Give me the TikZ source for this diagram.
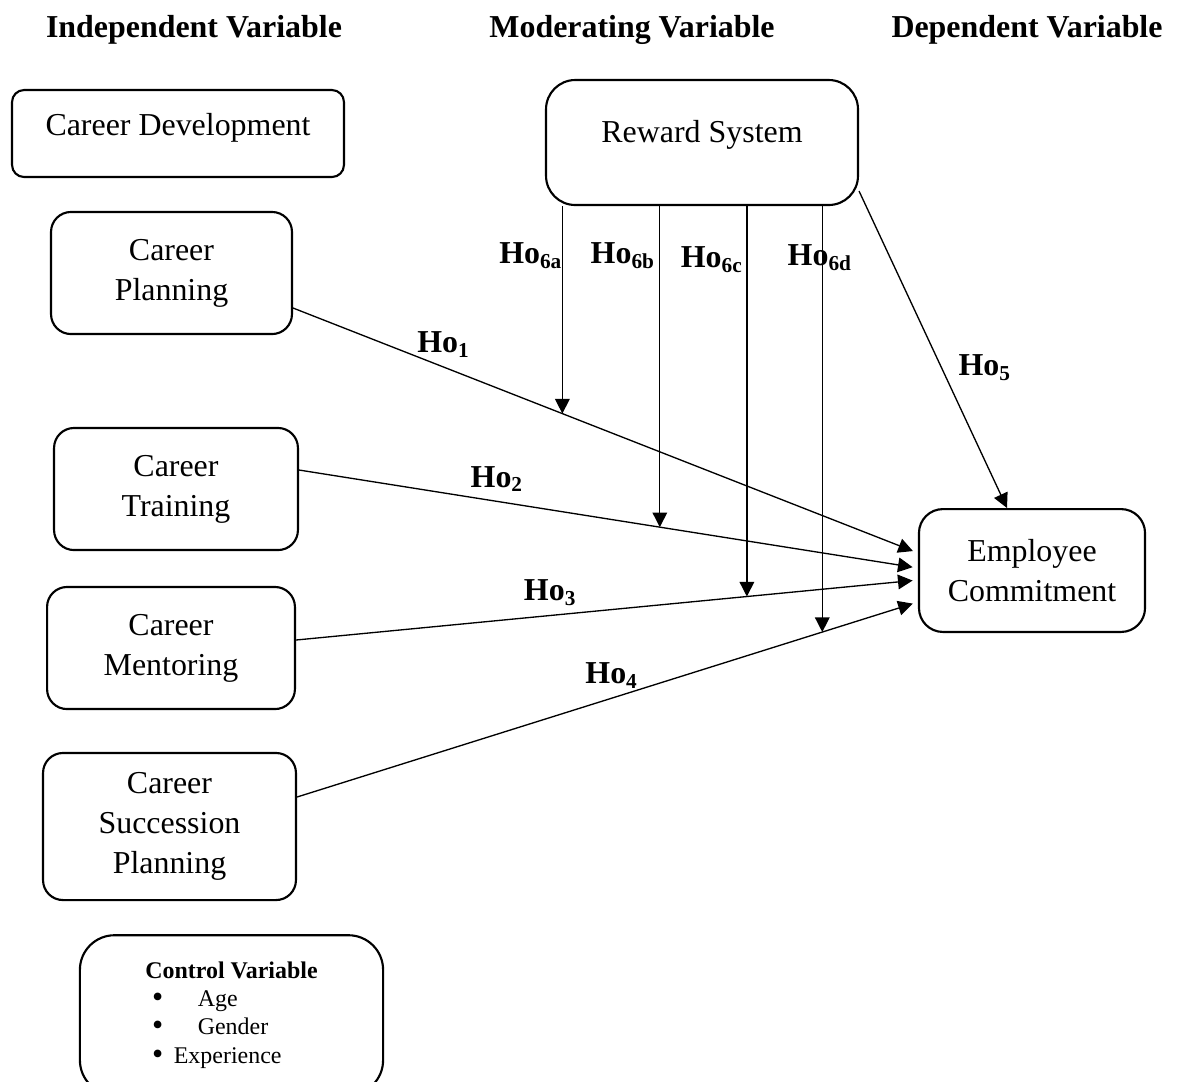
\documentclass[tikz,border=0pt]{standalone}
\usepackage{fontspec}
\setmainfont{Liberation Serif}
\usetikzlibrary{arrows.meta,calc}
\tikzstyle{varbox}=[draw,thick,rounded corners=7.5pt,align=center,font=\fontsize{12}{15}\selectfont,inner sep=2pt]
\tikzstyle{edge} = [draw,line width=0.5pt,-{Triangle[length=5.5pt,width=5.5pt]}]
\tikzstyle{weight} = [font=\bfseries\fontsize{12}{14}\selectfont]
\tikzstyle{heading} = [font=\bfseries\fontsize{12}{14}\selectfont]
\newcommand{\bigdot}{\raisebox{-0.4pt}{\fontsize{12}{10}\selectfont\textbullet}}

\begin{document}
\begin{tikzpicture}[x=0.376pt,y=-0.376pt]
    \useasboundingbox (0,0) rectangle (1178,1081);
    % Headings of the three columns
    \foreach \pos/\name/\txt in {{(194,30)/hind/Independent Variable}, {(632,30)/hmod/Moderating Variable},
                                 {(1027,30)/hdep/Dependent Variable}}
        \node[heading] (\name) at \pos {\txt};
    % Boxes of the variables
    \node[varbox, rounded corners=4.5pt, minimum width=124.8pt, minimum height=32.7pt] (cd) at (178,133.5)
        {\raisebox{2pt}[\height][\depth]{Career Development}};
    \node[varbox, rounded corners=11pt, minimum width=117.3pt, minimum height=47pt] (rs) at (702,142.5)
        {\raisebox{2.8pt}[\height][\depth]{Reward System}};
    \foreach \pos/\name/\w/\h/\txt in {{(171.5,273)/cp/90.6/45.9/{Career\\Planning}},
                                       {(176,489)/ct/91.7/45.9/{Career\\Training}},
                                       {(171,648)/cm/93.2/45.9/{Career\\Mentoring}},
                                       {(169.5,826.5)/cs/95.1/55.3/{Career\\Succession\\Planning}}}
        \node[varbox, minimum width=\w pt, minimum height=\h pt] (\name) at \pos {\txt};
    \node[varbox, rounded corners=9pt, minimum width=85pt, minimum height=46.2pt] (ec) at (1032,570.5) {Employee\\Commitment};
    \node[varbox, rounded corners=13pt, minimum width=114pt, minimum height=60pt, align=left,
          font=\fontsize{9}{10.6}\selectfont] (cv) at (231.5,1015)
        {\textbf{Control Variable}\\
         \hspace*{2.5pt}\bigdot\hspace{13pt}Age\\
         \hspace*{2.5pt}\bigdot\hspace{13pt}Gender\\
         \hspace*{2.5pt}\bigdot\hspace{4pt}Experience};
    % Direct effects and their hypotheses
    \foreach \source/\sy/\ey/\mpos/\lpos/\lab in {cp/35/-17.5/0.431/0.241/1, ct/-19/-2.5/0.583/0.320/2,
                                                  cm/-8/9.5/0.725/0.409/3, cs/-29.5/31.5/0.846/0.507/4}
        \path[edge, shorten >=2pt] ($(\source.east)+(0,\sy)$) -- coordinate[pos=\mpos] (m\lab)
            node[weight, above, pos=\lpos] {Ho\textsubscript{\lab}} ($(ec.west)+(0,\ey)$);
    % Moderating effects
    \foreach \i/\sub/\lx/\ly in {1/a/531/256, 2/b/623/256, 3/c/712/260, 4/d/820/258} {
        \path[edge] (rs.south -| m\i) -- (m\i);
        \node[weight] (ho6\sub) at (\lx,\ly) {Ho\textsubscript{6\sub}};
    }
    \path[edge] ($(rs.south east)+(0,-15)$) -- ($(ec.north)+(-25,0)$);
    \node[weight] (ho5) at (985,368) {Ho\textsubscript{5}};
\end{tikzpicture}
\end{document}
